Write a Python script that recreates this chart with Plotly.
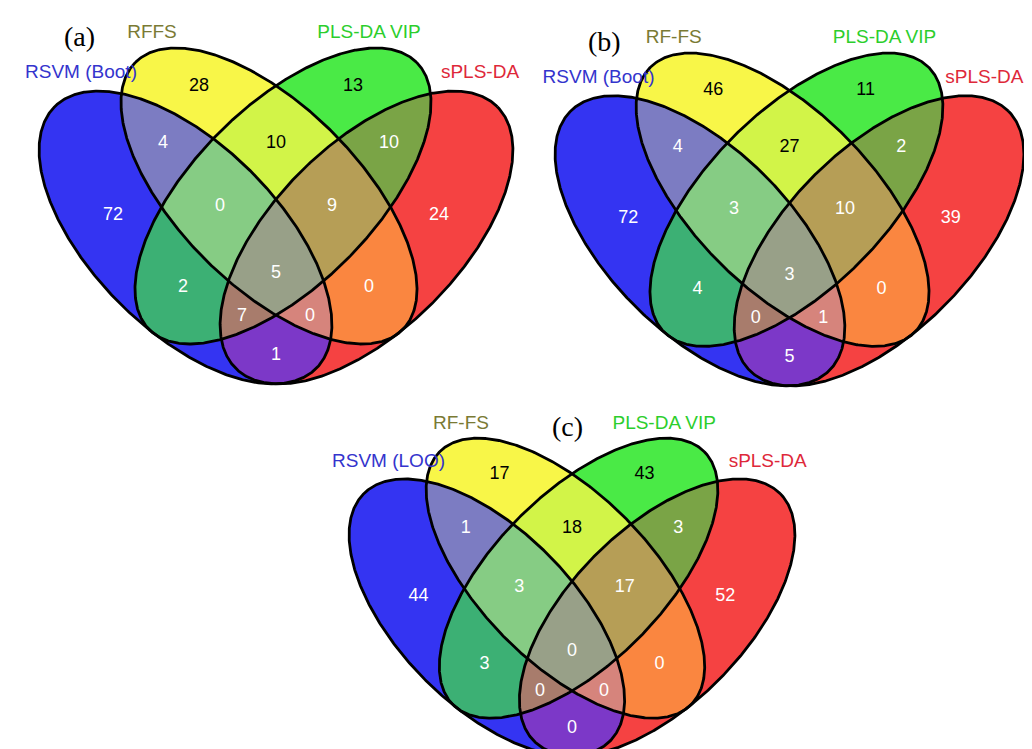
import numpy as np
import plotly.graph_objects as go

W, H = 1032, 749

# ---------------- data ----------------
region_keys = ["1000", "0100", "0010", "0001",
               "1100", "0110", "0011", "1010", "0101", "1001",
               "1110", "0111", "1011", "1101", "1111"]

counts_a = [72, 28, 13, 24, 4, 10, 10, 2, 0, 1, 0, 9, 7, 0, 5]
counts_b = [72, 46, 11, 39, 4, 27, 2, 4, 0, 5, 3, 10, 0, 1, 3]
counts_c = [44, 17, 43, 52, 1, 18, 3, 3, 0, 0, 3, 17, 0, 0, 0]

names_a = ["RSVM (Boot)", "RFFS", "PLS-DA VIP", "sPLS-DA"]
names_b = ["RSVM (Boot)", "RF-FS", "PLS-DA VIP", "sPLS-DA"]
names_c = ["RSVM (LOO)", "RF-FS", "PLS-DA VIP", "sPLS-DA"]

panel_letters = ["(a)", "(b)", "(c)"]

# ---------------- geometry / style ----------------
# ellipses in a canonical frame: x in [-237, 237], y in [0, 333]
ellipses = [  # cx, cy, a, b, angle
    (-90.5, 146.5, 185, 93, 135),   # set 1 (blue)
    (-7.0, 188.0, 189, 90, 135),    # set 2 (yellow)
    (7.0, 188.0, 189, 90, 45),      # set 3 (green)
    (90.5, 146.5, 185, 93, 45),     # set 4 (red)
]

region_colors = {
    "1000": "rgb(52,52,242)", "0100": "rgb(248,246,72)", "0010": "rgb(74,234,70)", "0001": "rgb(245,66,66)",
    "1100": "rgb(124,124,194)", "0110": "rgb(210,244,72)", "0011": "rgb(122,164,70)",
    "1010": "rgb(60,176,116)", "0101": "rgb(250,134,64)", "1001": "rgb(124,56,200)",
    "1110": "rgb(134,204,132)", "0111": "rgb(182,158,86)", "1011": "rgb(168,124,108)",
    "1101": "rgb(214,132,124)", "1111": "rgb(152,160,136)",
}

label_pos = {
    "1000": (-163, 169), "0001": (163, 169), "0100": (-77, 298), "0010": (77, 298),
    "1100": (-113, 241), "0011": (113, 241), "0110": (0, 241),
    "1110": (-56, 178), "0111": (56, 178), "1010": (-93, 97), "0101": (93, 97),
    "1111": (0, 111), "1011": (-34, 68), "1101": (34, 68), "1001": (0, 29),
}
dark_text_keys = {"0100", "0010", "0110"}

cat_pos_y = [311, 351, 351, 311]
cat_colors = ["rgb(52,52,205)", "rgb(122,122,52)", "rgb(44,206,44)", "rgb(222,40,58)"]

# panel pixel boxes: x of canonical -237..237, y of canonical 333..0
panels = [
    dict(px=(31, 505), py=(43, 376), letter_xy=(71, 28), cat_x=[-195, -124, 93, 204]),
    dict(px=(547, 1016), py=(48, 378), letter_xy=(596, 34), cat_x=[-193, -117, 96, 197]),
    dict(px=(341, 787), py=(433, 748), letter_xy=(559, 418), cat_x=[-195, -118, 98, 208]),
]
all_counts = [counts_a, counts_b, counts_c]
all_names = [names_a, names_b, names_c]


def ell_xy(e, n):
    cx, cy, a, b, ang = e
    t = np.linspace(0, 2 * np.pi, n, endpoint=False)
    th = np.radians(ang)
    x = cx + a * np.cos(t) * np.cos(th) - b * np.sin(t) * np.sin(th)
    y = cy + a * np.cos(t) * np.sin(th) + b * np.sin(t) * np.cos(th)
    return x, y


def inside(x, y, e):
    cx, cy, a, b, ang = e
    th = np.radians(ang)
    dx, dy = x - cx, y - cy
    u = dx * np.cos(th) + dy * np.sin(th)
    v = -dx * np.sin(th) + dy * np.cos(th)
    return (u / a) ** 2 + (v / b) ** 2 <= 1 + 1e-9


def intersection_poly(idx):
    xs, ys = [], []
    for i in idx:
        x, y = ell_xy(ellipses[i], 4000)
        m = np.ones_like(x, dtype=bool)
        for j in idx:
            if j != i:
                m &= inside(x, y, ellipses[j])
        xs.append(x[m])
        ys.append(y[m])
    x = np.concatenate(xs)
    y = np.concatenate(ys)
    mx, my = x.mean(), y.mean()
    order = np.argsort(np.arctan2(y - my, x - mx))
    x, y = x[order], y[order]
    return np.append(x, x[0]), np.append(y, y[0])


polys = {}
for k in region_keys:
    idx = [i for i, c in enumerate(k) if c == "1"]
    polys[k] = intersection_poly(idx)
draw_order = sorted(region_keys, key=lambda k: k.count("1"))

fig = go.Figure()
layout_axes = {}


def axis_setup_x(p0, p1, u0, u1, pad):
    s = (p1 - p0) / (u1 - u0)
    lo = max(0.0, p0 - pad * s)
    hi = min(W, p1 + pad * s)
    return [lo / W, hi / W], [u0 + (lo - p0) / s, u0 + (hi - p0) / s]


def axis_setup_y(ptop, pbot, utop, ulo, uhi):
    s = (pbot - ptop) / utop
    top_px = max(0.0, pbot - uhi * s)
    bot_px = min(H, pbot - ulo * s)
    return [1 - bot_px / H, 1 - top_px / H], [(pbot - bot_px) / s, (pbot - top_px) / s]


for pi, pan in enumerate(panels):
    n = pi + 1
    xa = "x" if n == 1 else f"x{n}"
    ya = "y" if n == 1 else f"y{n}"
    xdom, xr = axis_setup_x(pan["px"][0], pan["px"][1], -237, 237, 8)
    ydom, yr = axis_setup_y(pan["py"][0], pan["py"][1], 333, -8, 370)
    layout_axes["xaxis" if n == 1 else f"xaxis{n}"] = dict(domain=xdom, range=xr, visible=False,
                                                          fixedrange=True, anchor=ya)
    layout_axes["yaxis" if n == 1 else f"yaxis{n}"] = dict(domain=ydom, range=yr, visible=False,
                                                          fixedrange=True, anchor=xa)

    for k in draw_order:
        x, y = polys[k]
        fig.add_trace(go.Scatter(x=x, y=y, mode="lines", fill="toself", fillcolor=region_colors[k],
                                 line=dict(width=0.5, color=region_colors[k]), hoverinfo="skip",
                                 xaxis=xa, yaxis=ya, showlegend=False))
    for e in ellipses:
        x, y = ell_xy(e, 720)
        fig.add_trace(go.Scatter(x=np.append(x, x[0]), y=np.append(y, y[0]), mode="lines",
                                 line=dict(width=2.8, color="black"), hoverinfo="skip",
                                 xaxis=xa, yaxis=ya, showlegend=False))
    counts = all_counts[pi]
    fig.add_trace(go.Scatter(
        x=[label_pos[k][0] for k in region_keys], y=[label_pos[k][1] for k in region_keys],
        mode="text", text=[str(c) for c in counts],
        textfont=dict(family="Liberation Sans, Arial, sans-serif", size=18,
                      color=["black" if k in dark_text_keys else "white" for k in region_keys]),
        hoverinfo="skip", xaxis=xa, yaxis=ya, showlegend=False, cliponaxis=False))
    fig.add_trace(go.Scatter(
        x=pan["cat_x"], y=cat_pos_y, mode="text", text=all_names[pi],
        textfont=dict(family="Liberation Sans, Arial, sans-serif", size=19, color=cat_colors),
        hoverinfo="skip", xaxis=xa, yaxis=ya, showlegend=False, cliponaxis=False))

annotations = []
for pi, pan in enumerate(panels):
    lx, ly = pan["letter_xy"]
    annotations.append(dict(x=lx / W, y=1 - ly / H, xref="paper", yref="paper", text=panel_letters[pi],
                            showarrow=False, xanchor="center", yanchor="middle",
                            font=dict(family="Liberation Serif, Times New Roman, serif", size=28, color="black")))

fig.update_layout(width=W, height=H, margin=dict(l=0, r=0, t=0, b=0),
                  paper_bgcolor="white", plot_bgcolor="white", showlegend=False,
                  annotations=annotations, **layout_axes)

fig.write_html("out.html")
